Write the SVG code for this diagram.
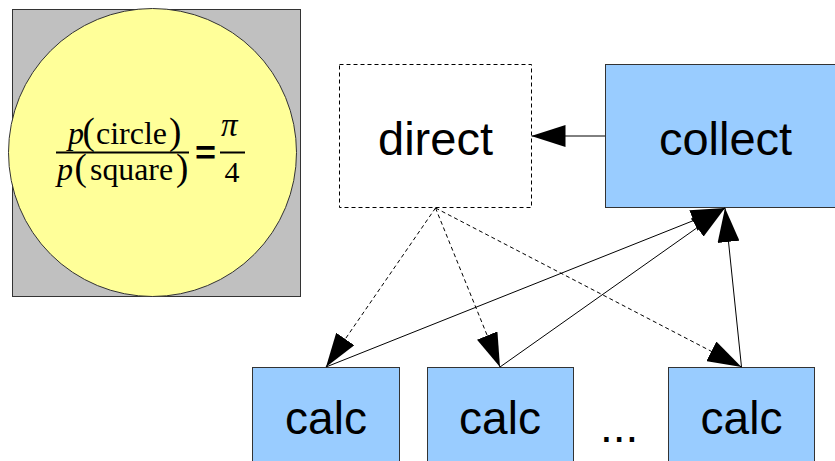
<svg xmlns="http://www.w3.org/2000/svg" width="835" height="461" viewBox="0 0 835 461">
<style>
.lbl{font-family:"Liberation Sans",Arial,sans-serif;fill:#000}
.box{fill:#99ccff;stroke:#333;stroke-width:1}
.math{font-family:"Liberation Serif","Times New Roman",serif;fill:#000}
.par{font-size:37px}
.solid{stroke:#000;stroke-width:1;fill:none}
.dash{stroke:#000;stroke-width:1;fill:none;stroke-dasharray:4 3}
</style>
<defs>
<marker id="ah" markerUnits="userSpaceOnUse" markerWidth="34" markerHeight="22" refX="34" refY="11" orient="auto" viewBox="0 0 34 22">
<path d="M0,0 L34,11 L0,22 Z" fill="#000"/>
</marker>
</defs>
<rect width="835" height="461" fill="#fff"/>
<g id="formula">
<rect x="12.5" y="9.5" width="288" height="287" fill="#c0c0c0" stroke="#333"/>
<circle cx="152.5" cy="152.5" r="144" fill="#ffff99" stroke="#333"/>
<text class="math" font-size="32" y="143.5"><tspan x="68" font-style="italic">p</tspan><tspan class="par" x="82.5">(</tspan><tspan x="96" textLength="71" lengthAdjust="spacingAndGlyphs">circle</tspan><tspan class="par" x="169">)</tspan></text>
<rect x="56" y="151.5" width="133" height="2" fill="#000"/>
<text class="math" font-size="32" y="180"><tspan x="57" font-style="italic">p</tspan><tspan class="par" x="74.5">(</tspan><tspan x="90" textLength="83" lengthAdjust="spacingAndGlyphs">square</tspan><tspan class="par" x="176">)</tspan></text>
<text class="lbl" font-size="34" font-weight="bold" x="195" y="164" textLength="21" lengthAdjust="spacingAndGlyphs">=</text>
<text class="math" font-size="33" font-style="italic" x="221" y="136">π</text>
<rect x="220" y="151.5" width="25" height="2" fill="#000"/>
<text class="math" font-size="30" x="224.5" y="182">4</text>
</g>
<g id="direct">
<rect x="339.5" y="64.5" width="192" height="143" fill="#fff" stroke="#000" stroke-dasharray="4 3"/>
<text class="lbl" font-size="47" x="435.5" y="155" text-anchor="middle">direct</text>
</g>
<g id="collect">
<rect class="box" x="605.5" y="64.5" width="240" height="143"/>
<text class="lbl" font-size="47" x="725.5" y="155" text-anchor="middle">collect</text>
</g>
<g id="calc1">
<rect class="box" x="252.5" y="367.5" width="147" height="110"/>
<text class="lbl" font-size="46" x="326" y="434" text-anchor="middle">calc</text>
</g>
<g id="calc2">
<rect class="box" x="427.5" y="367.5" width="146" height="110"/>
<text class="lbl" font-size="46" x="500" y="434" text-anchor="middle">calc</text>
</g>
<g id="calc3">
<rect class="box" x="668.5" y="367.5" width="146" height="110"/>
<text class="lbl" font-size="46" x="741.5" y="434" text-anchor="middle">calc</text>
</g>
<text class="lbl" font-size="46" x="600" y="442">...</text>
<g id="connectors">
<line class="solid" x1="605" y1="136" x2="531.5" y2="136" marker-end="url(#ah)"/>
<line class="dash" x1="435.5" y1="208" x2="326" y2="367" marker-end="url(#ah)"/>
<line class="dash" x1="435.5" y1="208" x2="500" y2="367" marker-end="url(#ah)"/>
<line class="dash" x1="435.5" y1="208" x2="741.5" y2="367" marker-end="url(#ah)"/>
<line class="solid" x1="326" y1="367" x2="725" y2="208" marker-end="url(#ah)"/>
<line class="solid" x1="500" y1="367" x2="725" y2="208" marker-end="url(#ah)"/>
<line class="solid" x1="741.5" y1="367" x2="725" y2="208" marker-end="url(#ah)"/>
</g>
</svg>
